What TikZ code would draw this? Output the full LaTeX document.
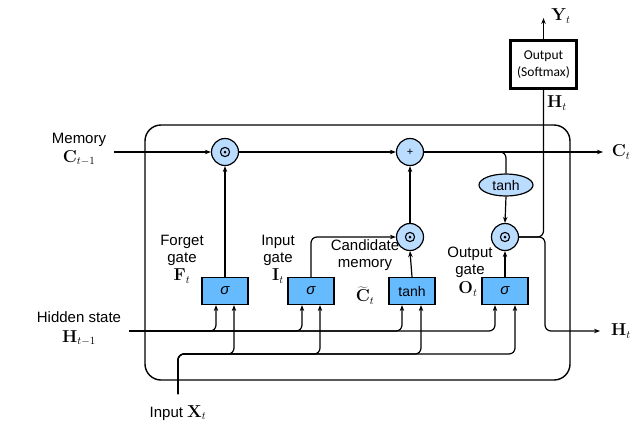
\documentclass[tikz,border=0pt]{standalone}
\usepackage[no-math]{fontspec}
\setmainfont{Liberation Sans}
\newfontfamily\boxfont{Carlito}
\usetikzlibrary{arrows.meta,shapes.geometric,calc}
\definecolor{circfill}{RGB}{186,220,255}
\definecolor{boxfill}{RGB}{102,187,255}
\newcommand{\sgm}{{\fontsize{15}{17}\selectfont\itshape σ}}
\begin{document}
\begin{tikzpicture}[x=1pt,y=-1pt,
  line width=1.2pt,
  every node/.style={font=\fontsize{15}{17}\selectfont},
  arr/.style={-{Stealth[length=6pt,width=4.5pt]}},
  opcirc/.style={circle,draw,fill=circfill,minimum size=27pt,inner sep=0pt},
  gatebox/.style={draw,fill=boxfill,minimum width=46pt,minimum height=27pt,inner sep=0pt},
  lbl/.style={align=center,inner sep=0pt},
  mlbl/.style={inner sep=0pt,font=\fontsize{16}{17}\selectfont},
  rc/.style={rounded corners=6pt}]
\useasboundingbox (0,0) rectangle (638,429);
% frame
\draw[rounded corners=16pt,line width=1.4pt] (145,125) rectangle (570,380);
% operator circles
\node[opcirc] (m1) at (225,152) {};
\node[opcirc] (plus) at (410,152) {\fontsize{11}{11}\selectfont +};
\node[opcirc] (cm) at (410,237) {};
\node[opcirc] (om) at (505,237) {};
\foreach \n in {m1,cm,om}{
  \draw[line width=1.1pt] (\n) circle (4.6pt);
  \fill (\n) circle (1.5pt);
}
\node[ellipse,draw,fill=circfill,minimum width=54pt,minimum height=22pt,inner sep=0pt,font=\fontsize{14}{17}\selectfont] (th) at (506,185) {tanh};
% gates
\node[gatebox] (fg) at (225,291) {\sgm};
\node[gatebox] (ig) at (311,291) {\sgm};
\node[gatebox,font=\fontsize{14}{17}\selectfont] (cg) at (412,291) {tanh};
\node[gatebox] (og) at (505,291) {\sgm};
% output box
\node[draw,line width=2.6pt,minimum width=66pt,minimum height=48pt,align=center,inner sep=0pt,font=\boxfont\fontsize{13.5}{17}\selectfont] (ob) at (543.5,64.5) {Output\\(Softmax)};
% coordinates
\coordinate (cin) at (114,152);
\coordinate (cout) at (603,152);
\coordinate (hin) at (129,331);
\coordinate (xin) at (178,394);
\coordinate (xl) at (178,354);
\coordinate (hc) at (545,331);
\coordinate (hout) at (600,331);
\coordinate (yout) at (543.5,18);
% memory path
\draw[arr] (cin) -- (m1);
\draw[arr] (m1) -- (plus);
\draw[arr] (plus) -- (cout);
\draw[rc] (plus.east) -| (th.north);
\draw[arr] (th.south) -- (om.north);
% gate outputs
\draw[arr] (fg.north) -- (m1.south);
\draw[arr,rc] (ig.north) |- (cm.west);
\draw[arr] (cg.north) -- (cm.south);
\draw[arr] (cm.north) -- (plus.south);
\draw[arr] (og.north) -- (om.south);
% hidden state out
\draw[rc] (om.east) -| (ob.south);
\draw[arr,rc] (om.east) -| (hc) -- (hout);
\draw[arr] (ob.north) -- (yout);
% hidden state inputs
\draw[arr,rc] (hin) -| ([xshift=-9pt]fg.south);
\draw[arr,rc] (hin) -| ([xshift=-9pt]ig.south);
\draw[arr,rc] (hin) -| ([xshift=-10pt]cg.south);
\draw[arr,rc] (hin) -| ([xshift=-10pt]og.south);
% input x
\draw[arr,rc] (xin) -- (xl) -| ([xshift=9pt]fg.south);
\draw[arr,rc] (xin) -- (xl) -| ([xshift=9pt]ig.south);
\draw[arr,rc] (xin) -- (xl) -| ([xshift=9pt]cg.south);
\draw[arr,rc] (xin) -- (xl) -| ([xshift=10pt]og.south);
% labels
\node[lbl] (lmem) at (79,140) {Memory};
\node[mlbl] (lcm) at (79,158) {$\mathbf{C}_{t-1}$};
\node[mlbl] (lct) at (621,152) {$\mathbf{C}_t$};
\node[lbl] (lhid) at (79,317) {Hidden state};
\node[mlbl] (lhm) at (79,338) {$\mathbf{H}_{t-1}$};
\node[mlbl] (lht) at (621,331) {$\mathbf{H}_t$};
\node[mlbl] (lht2) at (557,103) {$\mathbf{H}_t$};
\node[mlbl] (lyt) at (561,16) {$\mathbf{Y}_t$};
\node[lbl] (linp) at (178,413) {Input {\fontsize{16}{17}\selectfont$\mathbf{X}_t$}};
\node[lbl] (lfg) at (182,250.5) {Forget\\gate};
\node[mlbl] (lft) at (182,276) {$\mathbf{F}_t$};
\node[lbl] (lig) at (278,250.5) {Input\\gate};
\node[mlbl] (lit) at (278,276) {$\mathbf{I}_t$};
\node[lbl] (lcg) at (365,255) {Candidate\\memory};
\node[mlbl] (lctl) at (365,295.5) {$\widetilde{\mathbf{C}}_t$};
\node[lbl] (log) at (470,262.5) {Output\\gate};
\node[mlbl] (lot) at (468,289) {$\mathbf{O}_t$};
\end{tikzpicture}
\end{document}
